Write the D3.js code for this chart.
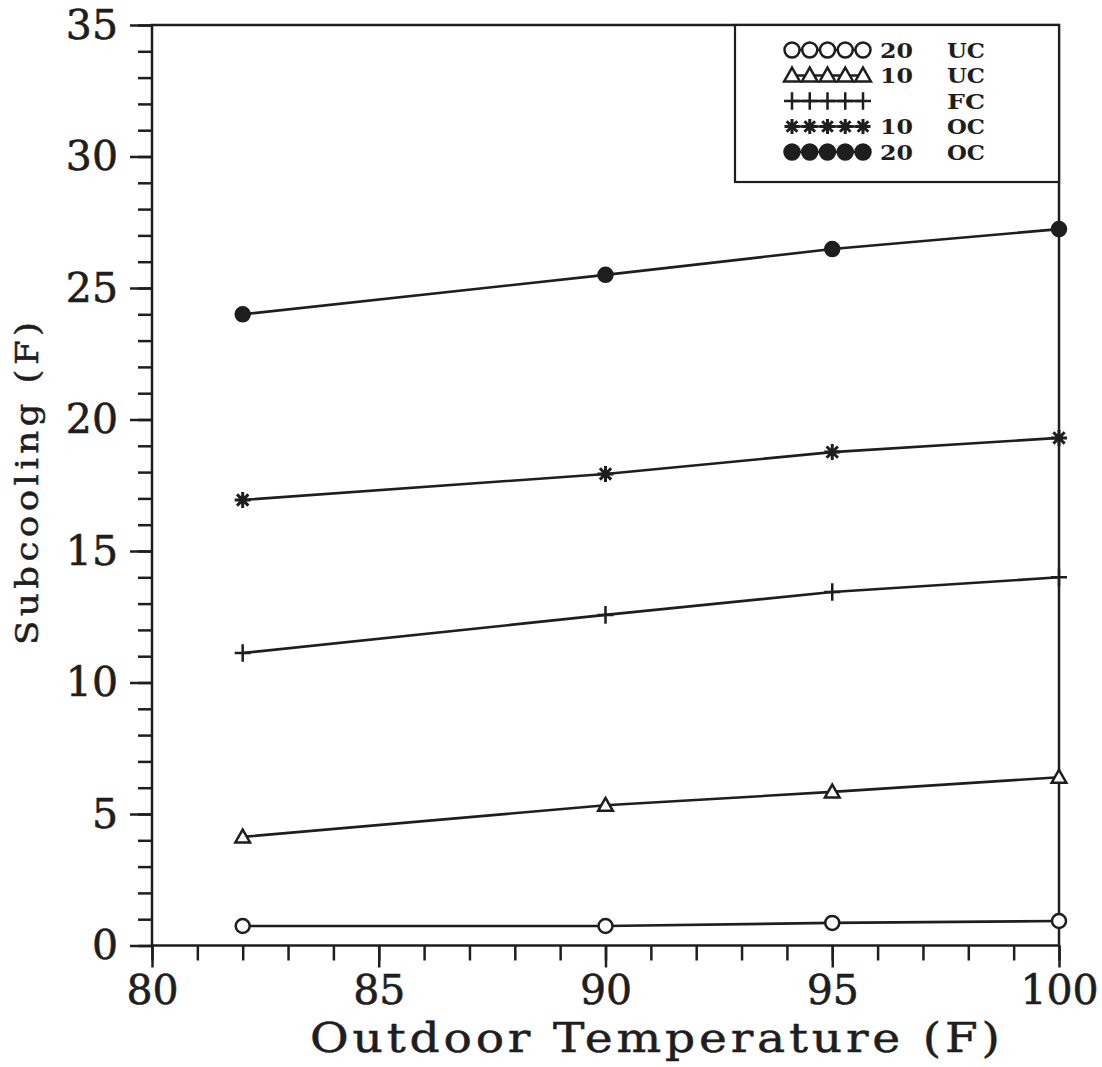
<!DOCTYPE html>
<html>
<head>
<meta charset="utf-8">
<script src="https://cdn.jsdelivr.net/npm/d3@7"></script>
<style>
html,body{margin:0;padding:0;background:#fff;}
svg{display:block;}
</style>
</head>
<body>
<svg id="chart" width="1102" height="1067"></svg>
<script>
// ---- data ----
const temps = [82, 90, 95, 100];
const seriesNames = ["20 UC", "10 UC", "FC", "10 OC", "20 OC"];
const legendNum = ["20", "10", "", "10", "20"];
const legendCode = ["UC", "UC", "FC", "OC", "OC"];
const markerKinds = ["circle", "triangle", "plus", "asterisk", "dot"];
const uc20 = [0.74, 0.74, 0.86, 0.93];
const uc10 = [4.13, 5.33, 5.84, 6.4];
const fc   = [11.12, 12.57, 13.44, 14.0];
const oc10 = [16.94, 17.93, 18.76, 19.3];
const oc20 = [24.0, 25.5, 26.48, 27.24];
const allSeries = [uc20, uc10, fc, oc10, oc20];
const xMajor = [80, 85, 90, 95, 100];
const yMajor = [0, 5, 10, 15, 20, 25, 30, 35];

const ink = "#1e1e1e";
const svg = d3.select("#chart");
const x = d3.scaleLinear().domain([80, 100]).range([152, 1059]);
const y = d3.scaleLinear().domain([0, 35]).range([945.5, 25]);

function markerPath(kind, s) {
  const h = s / 2;
  if (kind === "circle" || kind === "dot") {
    return `M${h},0A${h},${h} 0 1,1 ${-h},0A${h},${h} 0 1,1 ${h},0Z`;
  }
  if (kind === "triangle") {
    const r = h * 1.05;
    return `M0,${-r}L${r},${r * 0.75}L${-r},${r * 0.75}Z`;
  }
  if (kind === "plus") {
    return `M0,${-h * 1.1}V${h * 1.1}M${-h},0H${h}`;
  }
  if (kind === "asterisk") {
    let p = "";
    for (let i = 0; i < 4; i++) {
      const a = i * Math.PI / 4;
      const dx = Math.cos(a) * h, dy = Math.sin(a) * h;
      p += `M${-dx},${-dy}L${dx},${dy}`;
    }
    return p;
  }
  return "";
}
function styleMarker(sel, kind) {
  sel.attr("fill", kind === "dot" ? ink : (kind === "circle" || kind === "triangle" ? "#fff" : "none"))
     .attr("stroke", ink)
     .attr("stroke-width", kind === "asterisk" ? 3 : 2.5);
}

// ---- axes ----
const yMinor = svg.append("g").attr("transform", `translate(${x(80)},0)`)
  .call(d3.axisLeft(y).tickValues(d3.range(0, 36, 1)).tickSize(14).tickFormat(""));
const yAx = svg.append("g").attr("transform", `translate(${x(80)},0)`)
  .call(d3.axisLeft(y).tickValues(yMajor).tickSize(22).tickPadding(12).tickFormat(d3.format("d")));
const xMinor = svg.append("g").attr("transform", `translate(0,${y(0)})`)
  .call(d3.axisBottom(x).tickValues(d3.range(80, 101, 1)).tickSize(15).tickFormat(""));
const xAx = svg.append("g").attr("transform", `translate(0,${y(0)})`)
  .call(d3.axisBottom(x).tickValues(xMajor).tickSize(22).tickPadding(7).tickFormat(d3.format("d")));

[yMinor, yAx, xMinor, xAx].forEach(g => {
  g.selectAll(".domain").remove();
  g.selectAll(".tick line").attr("stroke", ink).attr("stroke-width", 2.5);
  g.selectAll("text").attr("fill", ink).attr("font-family", "DejaVu Serif")
    .attr("font-size", 41).attr("stroke", ink).attr("stroke-width", 0.6);
});

// frame
svg.append("rect")
  .attr("x", x(80)).attr("y", y(35))
  .attr("width", x(100) - x(80)).attr("height", y(0) - y(35))
  .attr("fill", "none").attr("stroke", ink).attr("stroke-width", 2.5);

// axis titles: stretched serif to mimic the wide monospace face
function stretchedText(parent, str, size, targetW, tx, ty, rot) {
  const g = parent.append("g").attr("transform", `translate(${tx},${ty}) rotate(${rot})`);
  const t = g.append("text")
    .attr("font-family", "DejaVu Serif").attr("font-size", size).attr("fill", ink)
    .attr("stroke", ink).attr("stroke-width", 0.5)
    .text(str);
  const w = t.node().getComputedTextLength();
  const sx = Math.min(1.15, targetW / w);
  t.attr("transform", `scale(${sx},1)`);
  const rem = targetW / sx;
  if (rem > w) t.attr("textLength", rem).attr("lengthAdjust", "spacing");
  return g;
}
stretchedText(svg, "Outdoor Temperature (F)", 41, 690, 310, 1052, 0);
stretchedText(svg, "Subcooling (F)", 31, 323, 38, 645, -90);

// ---- series ----
const line = d3.line().x((d, i) => x(temps[i])).y(d => y(d));
allSeries.forEach((vals, k) => {
  svg.append("path").datum(vals).attr("d", line)
    .attr("fill", "none").attr("stroke", ink).attr("stroke-width", 2.6);
  svg.append("g").selectAll("path").data(vals).join("path")
    .attr("transform", (d, i) => `translate(${x(temps[i])},${y(d)})`)
    .attr("d", markerPath(markerKinds[k], markerKinds[k] === "plus" ? 16 : (markerKinds[k] === "asterisk" ? 16 : 14)))
    .call(styleMarker, markerKinds[k]);
});

// ---- legend ----
const lg = svg.append("g");
lg.append("rect").attr("x", 735).attr("y", y(35)).attr("width", x(100) - 735)
  .attr("height", 182 - y(35)).attr("fill", "#fff").attr("stroke", ink).attr("stroke-width", 2.2);
const rowY = d3.scaleLinear().domain([0, 4]).range([50, 152]);
const legX = d3.scaleLinear().domain([0, 4]).range([792, 863]);
seriesNames.forEach((name, k) => {
  const cy = rowY(k);
  lg.append("line").attr("x1", legX(0)).attr("x2", legX(4)).attr("y1", cy).attr("y2", cy)
    .attr("stroke", ink).attr("stroke-width", 2.4);
  lg.append("g").selectAll("path").data(d3.range(5)).join("path")
    .attr("transform", i => `translate(${legX(i)},${cy})`)
    .attr("d", markerPath(markerKinds[k], markerKinds[k] === "plus" ? 16 : 15))
    .call(styleMarker, markerKinds[k]);
  lg.append("text").attr("x", 880).attr("y", cy).attr("dy", "0.36em")
    .attr("font-family", "DejaVu Serif").attr("font-weight", "bold").attr("font-size", 21)
    .attr("textLength", 33).attr("lengthAdjust", "spacingAndGlyphs")
    .attr("fill", ink).text(legendNum[k]);
  lg.append("text").attr("x", 947).attr("y", cy).attr("dy", "0.36em")
    .attr("font-family", "DejaVu Serif").attr("font-weight", "bold").attr("font-size", 21)
    .attr("textLength", 38).attr("lengthAdjust", "spacingAndGlyphs")
    .attr("fill", ink).text(legendCode[k]);
});
</script>
</body>
</html>
